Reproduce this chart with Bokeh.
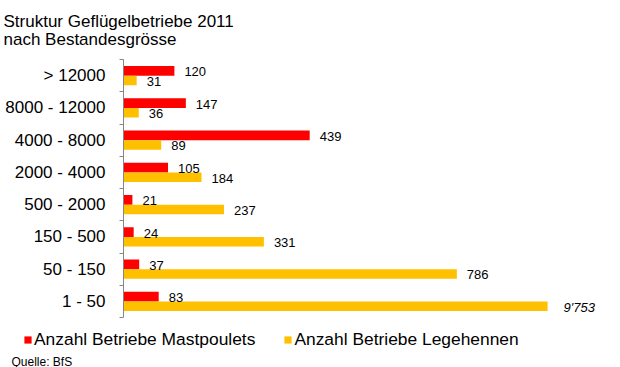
from bokeh.plotting import figure
from bokeh.layouts import column
from bokeh.models import (ColumnDataSource, FixedTicker, Label, Legend, LegendItem,
                          Range1d, Title)
from bokeh.embed import file_html
from bokeh.resources import INLINE
from bokeh.core.properties import value

# ---- data ----
categories = ["> 12000", "8000 - 12000", "4000 - 8000", "2000 - 4000",
              "500 - 2000", "150 - 500", "50 - 150", "1 - 50"]
mastpoulets = [120, 147, 439, 105, 21, 24, 37, 83]
legehennen = [31, 36, 89, 184, 237, 331, 786, 9753]
series_names = ["Anzahl Betriebe Mastpoulets", "Anzahl Betriebe Legehennen"]
title_lines = ["Struktur Geflügelbetriebe 2011", "nach Bestandesgrösse"]
source_note = "Quelle: BfS"
AXIS_BREAK = 1000  # bars longer than this are drawn cut at the break

RED = "#FF0000"
GOLD = "#FFC000"
AXIS_GREY = "#868686"
FONT = "Liberation Sans"

n = len(categories)
ypos = [n - 1 - i for i in range(n)]


def shown(v):
    return min(v, AXIS_BREAK)


def fmt(v):
    return f"{v:,}".replace(",", "'")


def make_source(vals, dy):
    return ColumnDataSource(dict(
        y=[y + dy for y in ypos],
        right=[shown(v) for v in vals],
        label=[fmt(v) for v in vals],
        xoff=[16 if v > AXIS_BREAK else 10 for v in vals],
        style=["italic" if v > AXIS_BREAK else "normal" for v in vals],
    ))


src_m = make_source(mastpoulets, 0.15)
src_l = make_source(legehennen, -0.15)

# ---- main chart ----
p = figure(width=620, height=320, output_backend="svg", toolbar_location=None,
           x_range=Range1d(0, 1153), y_range=Range1d(-0.5, n - 0.5),
           min_border_left=123, min_border_right=8, min_border_top=56,
           min_border_bottom=3)
p.frame_align = False
p.outline_line_color = None
p.xgrid.visible = False
p.ygrid.visible = False
p.xaxis.visible = False

p.hbar(y="y", right="right", left=0, height=0.3, fill_color=RED,
       line_color=None, source=src_m)
p.hbar(y="y", right="right", left=0, height=0.3, fill_color=GOLD,
       line_color=None, source=src_l)

for src in (src_m, src_l):
    p.text(x="right", y="y", text="label", source=src, x_offset="xoff", y_offset=1,
           text_font=value(FONT), text_font_size="13px", text_baseline="middle",
           text_align="left", text_color="black", text_font_style="style")

yax = p.yaxis[0]
yax.ticker = FixedTicker(ticks=ypos, minor_ticks=[b - 0.5 for b in range(n + 1)])
yax.major_label_overrides = {y: c for y, c in zip(ypos, categories)}
yax.major_tick_line_color = None
yax.major_tick_out = 0
yax.major_tick_in = 0
yax.minor_tick_out = 4
yax.minor_tick_in = 0
yax.minor_tick_line_color = AXIS_GREY
yax.axis_line_color = AXIS_GREY
yax.major_label_standoff = 14
yax.major_label_text_font = FONT
yax.major_label_text_font_size = "17px"
yax.major_label_text_color = "black"

p.add_layout(Title(text="\n".join(title_lines), offset=-120, standoff=20,
                   align="left", text_font=FONT, text_font_style="normal",
                   text_color="black", text_font_size="17px",
                   text_line_height=0.95), "above")

# ---- legend + source strip ----
q = figure(width=620, height=47, output_backend="svg", toolbar_location=None,
           x_axis_type=None, y_axis_type=None,
           x_range=Range1d(0, 1), y_range=Range1d(0, 1),
           min_border_left=0, min_border_right=0, min_border_top=0,
           min_border_bottom=0)
q.frame_align = False
q.outline_line_color = None
q.xgrid.visible = False
q.ygrid.visible = False
# legend keys only: single zero-length bars placed outside the visible range
k1 = q.hbar(y=[-5], right=[0], left=0, height=0.3, fill_color=RED, line_color=None)
k2 = q.hbar(y=[-5], right=[0], left=0, height=0.3, fill_color=GOLD, line_color=None)

legend = Legend(items=[LegendItem(label=series_names[0], renderers=[k1]),
                       LegendItem(label=series_names[1], renderers=[k2])],
                location=(23, 17), orientation="horizontal",
                glyph_width=9, glyph_height=9, label_height=9, label_standoff=2,
                spacing=28, padding=0, margin=0, border_line_color=None,
                background_fill_alpha=0, label_text_font=FONT,
                label_text_font_size="17.4px", label_text_color="black")
q.add_layout(legend)
q.add_layout(Label(x=11, y=6, x_units="screen", y_units="screen",
                   text=source_note, text_font=FONT, text_font_size="12px",
                   text_baseline="alphabetic", text_color="black"))

open("out.html", "w").write(file_html(column(p, q, spacing=0), INLINE))
